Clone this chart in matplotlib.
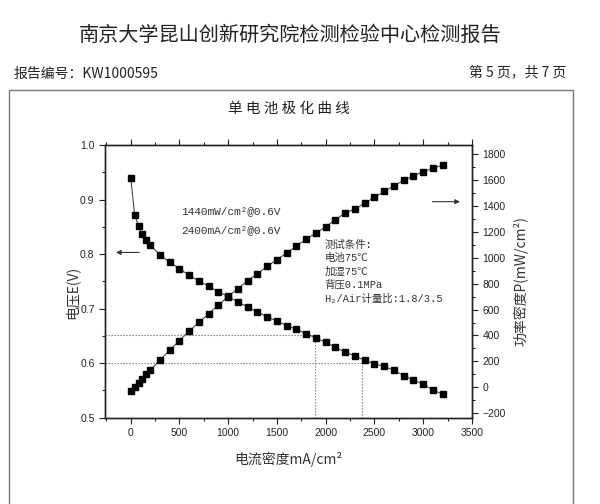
import matplotlib
matplotlib.use("Agg")
import matplotlib.pyplot as plt
from matplotlib.patches import Rectangle
from matplotlib.ticker import MultipleLocator

# ---- data ----
current = [0, 40, 80, 120, 160, 200, 300, 400, 500, 600, 700, 800, 900, 1000,
           1100, 1200, 1300, 1400, 1500, 1600, 1700, 1800, 1900, 2000, 2100,
           2200, 2300, 2400, 2500, 2600, 2700, 2800, 2900, 3000, 3100, 3200]
voltage = [0.940, 0.872, 0.851, 0.836, 0.826, 0.816, 0.799, 0.785, 0.773, 0.761,
           0.750, 0.741, 0.731, 0.722, 0.712, 0.703, 0.694, 0.685, 0.677, 0.669,
           0.662, 0.654, 0.646, 0.638, 0.629, 0.620, 0.613, 0.605, 0.599, 0.594,
           0.587, 0.577, 0.569, 0.561, 0.551, 0.543]
power = [-31, 3, 36, 67, 100, 131, 211, 288, 360, 435, 501, 568, 635, 702,
         761, 823, 877, 933, 985, 1036, 1090, 1144, 1190, 1239, 1293, 1345,
         1375, 1422, 1465, 1511, 1555, 1596, 1632, 1663, 1689, 1715]
guide_x = [1885, 2372]
guide_v = [0.652, 0.600]

annot_lines = ["1440mW/cm²@0.6V", "2400mA/cm²@0.6V"]
cond_lines = ["测试条件:", "电池75℃", "加湿75℃", "背压0.1MPa", "H₂/Air计量比:1.8/3.5"]

W, H = 600, 504
fig = plt.figure(figsize=(6.0, 5.04), dpi=100)
fig.patch.set_facecolor("white")

cjk = ["Noto Sans CJK SC", "DejaVu Sans"]
mono = ["Liberation Mono", "Noto Sans CJK SC", "DejaVu Sans"]
tickfont = "Liberation Sans"

# document header
fig.text(290 / W, 1 - 35 / H, "南京大学昆山创新研究院检测检验中心检测报告",
         family=cjk, fontsize=14.5, ha="center", va="center", color="#222222")
fig.text(14 / W, 1 - 74 / H, "报告编号：KW1000595", family=cjk, fontsize=10,
         ha="left", va="center", color="#222222")
fig.text(566 / W, 1 - 72 / H, "第 5 页，共 7 页", family=cjk, fontsize=10,
         ha="right", va="center", color="#222222")
fig.patches.append(Rectangle((9 / W, -0.05), (573 - 9) / W, 0.05 + 1 - 90 / H,
                             transform=fig.transFigure, fill=False,
                             edgecolor="#777777", linewidth=1.0))
fig.text(289 / W, 1 - 109 / H, "单 电 池 极 化 曲 线", family=cjk, fontsize=10.5,
         ha="center", va="center", color="#222222")

# axes
ax = fig.add_axes([105 / W, 1 - 417.7 / H, (472 - 105) / W, (417.7 - 145) / H])
ax2 = ax.twinx()
ax.set_xlim(-264, 3500)
ax.set_ylim(0.5, 1.0)
ax2.set_ylim(-234, 1869)

ax.plot(current, voltage, color="#333333", lw=0.7, marker="s", ms=4.3,
        mfc="black", mec="black", zorder=3)
ax2.plot(current, power, color="#333333", lw=0.7, marker="s", ms=4.3,
         mfc="black", mec="black", zorder=3)

# guide lines
for gx, gv in zip(guide_x, guide_v):
    ax.plot([-264, gx], [gv, gv], color="#777777", lw=0.8, ls=(0, (1.2, 1.5)))
    ax.plot([gx, gx], [0.5, gv], color="#777777", lw=0.8, ls=(0, (1.2, 1.5)))

# arrows
ax.annotate("", xy=(-180, 0.803), xytext=(115, 0.803),
            arrowprops=dict(arrowstyle="-|>", color="#333333", lw=0.8,
                            mutation_scale=7))
ax2.annotate("", xy=(3405, 1432), xytext=(3066, 1432),
             arrowprops=dict(arrowstyle="-|>", color="#333333", lw=0.8,
                             mutation_scale=7))

# annotations
for txt, yv in zip(annot_lines, [0.878, 0.844]):
    ax.text(513, yv, txt, family=mono, fontsize=8, ha="left", va="center",
            color="#333333")
for txt, yv in zip(cond_lines, [0.8174, 0.7927, 0.7679, 0.7431, 0.7183]):
    ax.text(1985, yv, txt, family=mono, fontsize=7.5, ha="left", va="center",
            color="#333333")

# ticks
ax.xaxis.set_major_locator(MultipleLocator(500))
ax.xaxis.set_minor_locator(MultipleLocator(250))
ax.yaxis.set_major_locator(MultipleLocator(0.1))
ax.yaxis.set_minor_locator(MultipleLocator(0.05))
ax2.yaxis.set_major_locator(MultipleLocator(200))
ax2.yaxis.set_minor_locator(MultipleLocator(100))
ax.tick_params(which="both", direction="out", top=True, color="#222222",
               labelsize=7.5, width=0.8)
ax.tick_params(which="major", length=4)
ax.tick_params(which="minor", length=2.5)
ax2.tick_params(which="both", direction="out", color="#222222", labelsize=7.5,
                width=0.8)
ax2.tick_params(which="major", length=4)
ax2.tick_params(which="minor", length=2.5)
for a in (ax, ax2):
    for lab in a.get_xticklabels() + a.get_yticklabels():
        lab.set_family(tickfont)
        lab.set_color("#222222")
    for s in a.spines.values():
        s.set_linewidth(1.0)
        s.set_color("#222222")
ax.yaxis.set_major_formatter(matplotlib.ticker.FormatStrFormatter("%.1f"))

ax.set_xlabel("电流密度mA/cm²", family=cjk, fontsize=10, color="#333333")
ax.xaxis.set_label_coords(0.5, -(452 - 417.7) / 272.7)
ax.set_ylabel("电压E(V)", family=cjk, fontsize=10, color="#333333")
ax.yaxis.set_label_coords(-(105 - 79) / 367, 0.46)
ax2.set_ylabel("功率密度P(mW/cm²)", family=cjk, fontsize=10, color="#333333")
ax2.yaxis.set_label_coords((513 - 105) / 367, 0.5)

fig.savefig("out.png", dpi=100, facecolor="white")
